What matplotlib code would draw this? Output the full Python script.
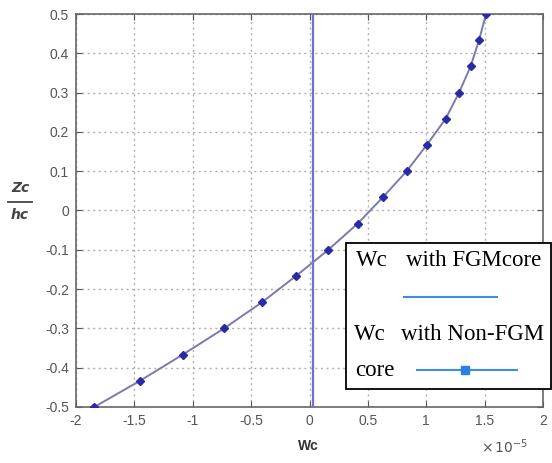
import matplotlib
matplotlib.use("Agg")
import matplotlib.pyplot as plt
import numpy as np
from matplotlib.patches import Rectangle
from matplotlib.lines import Line2D

# Data (x values in units of 1e-5)
z_ratio = [-0.5, -0.4333, -0.3667, -0.3, -0.2333, -0.1667, -0.1, -0.0333,
           0.0333, 0.1, 0.1667, 0.2333, 0.3, 0.3667, 0.4333, 0.5]
wc_nonfgm = [-1.843, -1.452, -1.086, -0.732, -0.406, -0.116, 0.161, 0.413,
             0.627, 0.832, 1.004, 1.166, 1.281, 1.380, 1.452, 1.512]
wc_fgm_z = [-0.5, 0.5]
wc_fgm = [0.033, 0.033]
xticks = [-2, -1.5, -1, -0.5, 0, 0.5, 1, 1.5, 2]
xticklabels = ["-2", "-1.5", "-1", "-0.5", "0", "0.5", "1", "1.5", "2"]
yticks = [-0.5, -0.4, -0.3, -0.2, -0.1, 0, 0.1, 0.2, 0.3, 0.4, 0.5]
yticklabels = ["-0.5", "-0.4", "-0.3", "-0.2", "-0.1", "0", "0.1", "0.2", "0.3", "0.4", "0.5"]

W, H = 552, 463
fig = plt.figure(figsize=(W / 100, H / 100), dpi=100)
ax = fig.add_axes([76 / W, 1 - 407 / H, (543 - 76) / W, (407 - 14) / H])

scale = 1e-5
ax.plot(np.array(wc_fgm) * scale, wc_fgm_z, color="#6f6fd8", lw=1.6, zorder=3)
ax.plot(np.array(wc_nonfgm) * scale, z_ratio, color="#7a7ab0", lw=1.4,
        marker="D", markersize=4, markerfacecolor="#2a2aa8",
        markeredgecolor="#2a2aa8", zorder=4)

ax.set_xlim(-2e-5, 2e-5)
ax.set_ylim(-0.5, 0.5)
ax.set_xticks([t * scale for t in xticks])
ax.set_xticklabels(xticklabels)
ax.set_yticks(yticks)
ax.set_yticklabels(yticklabels)
ax.grid(True, linestyle=(0, (1.5, 2.5)), color="#b0b0b0", lw=1.0)
ax.tick_params(direction="in", top=True, right=True, length=4,
               colors="#555555", labelcolor="#555555", labelsize=10, pad=5)
for lab in ax.get_xticklabels() + ax.get_yticklabels():
    lab.set_fontfamily("Liberation Sans")
for s in ax.spines.values():
    s.set_color("#666666")
    s.set_linewidth(1.2)

# x label and offset
fig.text(308 / W, 1 - 446 / H, "Wc", fontsize=10, fontweight="bold",
         color="#333333", ha="center", va="center", family="Liberation Sans")
fig.text(505 / W, 1 - 447 / H, r"$\times\,10^{-5}$", fontsize=10,
         color="#555555", ha="center", va="center")

# y label as fraction
fig.text(20 / W, 1 - 188 / H, "Zc", fontsize=10, fontweight="bold",
         fontstyle="italic", color="#444444", ha="center", va="center",
         family="DejaVu Sans")
fig.text(20 / W, 1 - 215 / H, "hc", fontsize=10, fontweight="bold",
         fontstyle="italic", color="#444444", ha="center", va="center",
         family="DejaVu Sans")
fig.add_artist(Line2D([8 / W, 32 / W], [1 - 202 / H, 1 - 202 / H],
                      color="#444444", lw=1.3, transform=fig.transFigure))

# custom legend box
ov = fig.add_axes([0, 0, 1, 1], facecolor="none")
ov.set_xlim(0, W)
ov.set_ylim(H, 0)
ov.axis("off")
ov.add_patch(Rectangle((345.5, 243), 205, 146, facecolor="white",
                       edgecolor="black", lw=1.3, zorder=10))
serif = "Liberation Serif"
fs = 16.5
ov.text(356, 260, "Wc", fontsize=fs, family=serif, va="center", zorder=11)
ov.text(406, 260, "with FGMcore", fontsize=fs, family=serif, va="center", zorder=11)
ov.plot([404, 497], [296.5, 296.5], color="#3a8ee6", lw=1.5, zorder=11)
ov.text(354, 334, "Wc", fontsize=fs, family=serif, va="center", zorder=11)
ov.text(401, 334, "with Non-FGM", fontsize=fs, family=serif, va="center", zorder=11)
ov.text(355, 370, "core", fontsize=fs, family=serif, va="center", zorder=11)
ov.plot([417, 517], [370, 370], color="#3a8ee6", lw=1.5, zorder=11)
ov.plot([465], [370], marker="s", markersize=5.5, color="#2a7ee6", zorder=12)

fig.savefig("out.png", dpi=100)
